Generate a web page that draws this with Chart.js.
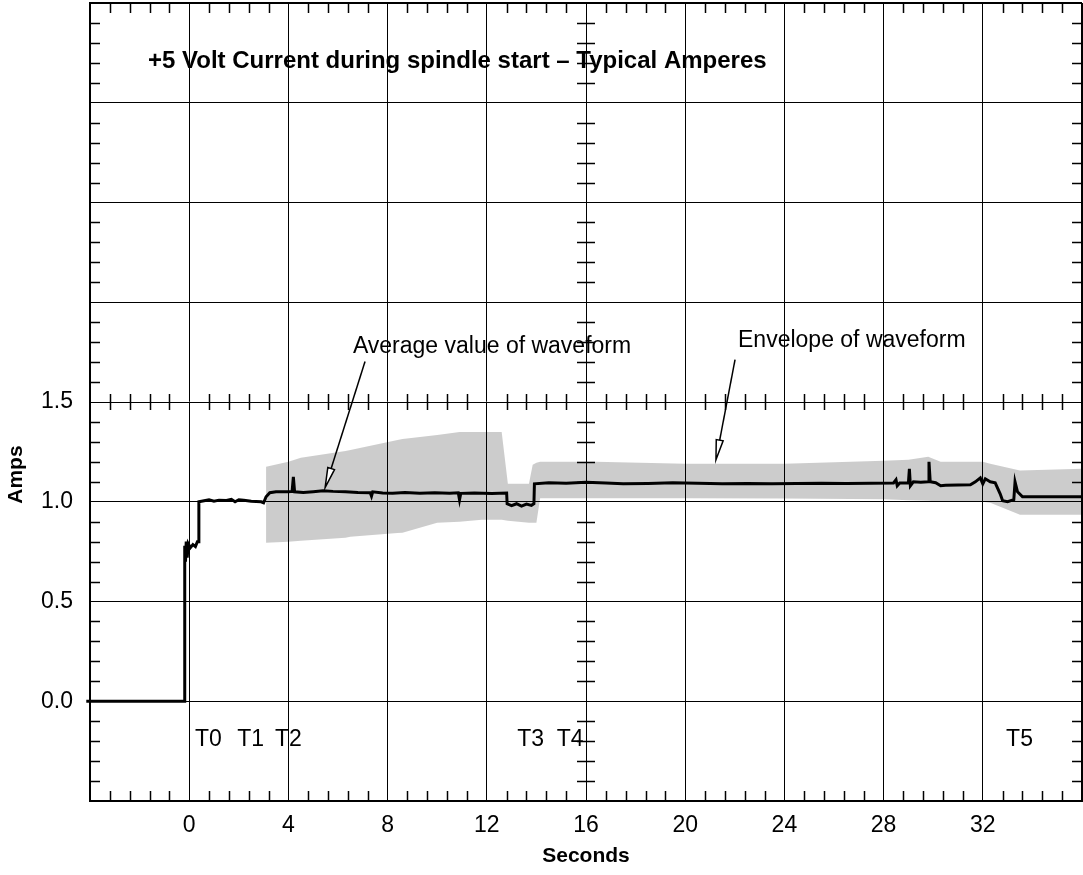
<!DOCTYPE html>
<html>
<head>
<meta charset="utf-8">
<script src="https://cdn.jsdelivr.net/npm/chart.js@4.4.1/dist/chart.umd.min.js"></script>
<style>
  html, body { margin: 0; padding: 0; background: #fff; }
  canvas { display: block; }
</style>
</head>
<body>
<canvas id="chart" width="1083" height="875"></canvas>
<script>
// average value of the waveform (seconds, amps)
const waveSeconds = [
  -4.15, -0.2, -0.18, -0.15, -0.12, -0.08, -0.04, 0.05, 0.15, 0.25, 0.33, 0.37,
  0.39, 0.6, 0.8, 1.0, 1.2, 1.5, 1.7, 1.85, 2.0, 2.2, 2.5, 2.9, 3.0, 3.1, 3.25, 3.5,
  4.0, 4.15, 4.2, 4.25, 4.6, 5.0, 5.4, 5.8, 6.3, 6.8, 7.3, 7.35, 7.4, 7.8, 8.2, 8.7,
  9.3, 9.9, 10.5, 10.85, 10.9, 10.95, 11.5, 12.2, 12.8, 12.82, 13.0, 13.2, 13.4, 13.6,
  13.8, 13.9, 13.92, 14.5, 15.2, 16.0, 16.8, 17.5, 18.5, 19.5, 20.5, 21.5, 22.5, 23.5,
  24.5, 25.5, 26.5, 27.5, 28.4, 28.5, 28.55, 28.65, 29.0, 29.04, 29.08, 29.2, 29.5,
  29.8, 29.83, 29.88, 30.1, 30.3, 30.5, 31.5, 31.7, 31.9, 32.0, 32.1, 32.3, 32.5,
  32.7, 32.8, 33.0, 33.25, 33.3, 33.4, 33.6, 36.0
];
const waveAmps = [
  0, 0, 0.78, 0.70, 0.80, 0.72, 0.79, 0.77, 0.785, 0.775, 0.80, 0.80,
  1.0, 1.005, 1.01, 1.003, 1.008, 1.006, 1.012, 1.0, 1.01, 1.008, 1.003, 1.0, 0.995, 1.025, 1.045, 1.05,
  1.05, 1.052, 1.125, 1.05, 1.046, 1.05, 1.055, 1.052, 1.05, 1.046, 1.045, 1.028, 1.05, 1.044, 1.042, 1.046,
  1.043, 1.045, 1.042, 1.045, 1.01, 1.042, 1.044, 1.041, 1.044, 0.99, 0.98, 0.99, 0.978, 0.988,
  0.982, 0.99, 1.09, 1.095, 1.093, 1.098, 1.094, 1.09, 1.092, 1.095, 1.093, 1.09, 1.092, 1.09,
  1.091, 1.093, 1.092, 1.093, 1.094, 1.11, 1.08, 1.094, 1.094, 1.165, 1.08, 1.1, 1.098,
  1.1, 1.2, 1.1, 1.095, 1.08, 1.083, 1.085, 1.1, 1.12, 1.09, 1.115, 1.1, 1.095,
  1.04, 1.005, 1.0, 1.01, 1.1, 1.05, 1.025, 1.025
];

// envelope of the waveform (upper and lower edge, same time points)
const envSeconds = [3.1, 4.0, 4.5, 6.3, 6.5, 8.4, 8.6, 10.0, 10.9, 11.8, 12.6, 12.85, 13.7,
  13.85, 14.0, 14.15, 16.4, 20.0, 24.0, 28.0, 29.0, 29.8, 30.3, 32.0, 32.3, 33.5, 36.0];
const envUpper = [1.175, 1.2, 1.22, 1.255, 1.26, 1.31, 1.315, 1.335, 1.35, 1.35, 1.35, 1.09, 1.09,
  1.185, 1.195, 1.2, 1.2, 1.19, 1.19, 1.205, 1.21, 1.226, 1.2, 1.2, 1.19, 1.157, 1.165];
const envLower = [0.795, 0.80, 0.805, 0.82, 0.825, 0.843, 0.845, 0.895, 0.90, 0.91, 0.91, 0.905, 0.895,
  0.895, 0.895, 1.018, 1.018, 1.018, 1.016, 1.012, 1.008, 1.005, 1.0, 1.0, 0.995, 0.935, 0.935];

// axis labels that are printed
const labeledSeconds = [0, 4, 8, 12, 16, 20, 24, 28, 32];
const labeledAmps = [0, 0.5, 1.0, 1.5];

// event markers
const eventNames = ['T0', 'T1', 'T2', 'T3', 'T4', 'T5'];
const eventSeconds = [0.23, 1.94, 3.46, 13.23, 14.82, 32.94];

const FONT = '"Liberation Sans", Arial, Helvetica, sans-serif';
Chart.defaults.font.family = FONT;
Chart.defaults.color = '#000';

function pts(xs, ys) {
  return xs.map((x, i) => ({ x, y: ys[i] }));
}

function drawArrow(ctx, x0, y0, x1, y1) {
  const ang = Math.atan2(y1 - y0, x1 - x0);
  const len = 20, half = 3.5;
  const c = Math.cos(ang), s = Math.sin(ang);
  ctx.beginPath();
  ctx.moveTo(x0, y0);
  ctx.lineTo(x1 - c * len, y1 - s * len);
  ctx.stroke();
  ctx.beginPath();
  ctx.moveTo(x1, y1);
  ctx.lineTo(x1 - c * len + s * half, y1 - s * len - c * half);
  ctx.lineTo(x1 - c * len - s * half, y1 - s * len + c * half);
  ctx.closePath();
  ctx.fillStyle = '#fff';
  ctx.fill();
  ctx.stroke();
}

const decor = {
  id: 'decor',
  afterDraw(chart) {
    const { ctx, chartArea: a, scales: { x, y } } = chart;
    ctx.save();

    // minor ticks: edges plus the centre cross
    ctx.strokeStyle = '#000';
    ctx.lineWidth = 1.5;
    ctx.beginPath();
    const yMid = Math.round(y.getPixelForValue(1.5));
    for (let i = 1; i < 50; i++) {
      if (i % 5 === 0) continue;
      const px = Math.round(x.getPixelForValue(-4 + i * 0.8)) + 0.5;
      ctx.moveTo(px, a.bottom); ctx.lineTo(px, a.bottom - 10);
      ctx.moveTo(px, a.top); ctx.lineTo(px, a.top + 10);
      ctx.moveTo(px, yMid - 8); ctx.lineTo(px, yMid + 8);
    }
    const xMid = Math.round(x.getPixelForValue(16));
    for (let i = 1; i < 40; i++) {
      if (i % 5 === 0) continue;
      const py = Math.round(y.getPixelForValue(-0.5 + i * 0.1)) + 0.5;
      ctx.moveTo(a.left, py); ctx.lineTo(a.left + 10, py);
      ctx.moveTo(a.right, py); ctx.lineTo(a.right - 10, py);
      ctx.moveTo(xMid - 9, py); ctx.lineTo(xMid + 9, py);
    }
    ctx.stroke();

    // arrows
    ctx.lineWidth = 1.5;
    drawArrow(ctx, x.getPixelForValue(7.09), y.getPixelForValue(1.703),
      x.getPixelForValue(5.48), y.getPixelForValue(1.071));
    drawArrow(ctx, x.getPixelForValue(22.01), y.getPixelForValue(1.712),
      x.getPixelForValue(21.24), y.getPixelForValue(1.21));

    // texts
    ctx.fillStyle = '#000';
    ctx.textBaseline = 'middle';
    ctx.textAlign = 'left';
    ctx.font = 'bold 24px ' + FONT;
    ctx.fillText('+5 Volt Current during spindle start \u2013 Typical Amperes',
      x.getPixelForValue(-1.66), y.getPixelForValue(3.206));

    ctx.font = '23px ' + FONT;
    ctx.fillText('Average value of waveform', x.getPixelForValue(6.6), y.getPixelForValue(1.777));
    ctx.fillText('Envelope of waveform', x.getPixelForValue(22.13), y.getPixelForValue(1.807));
    eventNames.forEach((name, i) => {
      ctx.fillText(name, x.getPixelForValue(eventSeconds[i]), y.getPixelForValue(-0.192));
    });

    // axis titles
    ctx.font = 'bold 21px ' + FONT;
    ctx.textAlign = 'center';
    ctx.fillText('Seconds', (a.left + a.right) / 2, 856);
    ctx.translate(a.left - 74, y.getPixelForValue(1.136));
    ctx.rotate(-Math.PI / 2);
    ctx.fillText('Amps', 0, 0);

    ctx.restore();
  }
};

new Chart(document.getElementById('chart'), {
  type: 'line',
  data: {
    datasets: [
      {
        label: 'Envelope upper',
        data: pts(envSeconds, envUpper),
        borderColor: 'rgba(0,0,0,0)',
        borderWidth: 1,
        pointRadius: 0,
        fill: '+1',
        backgroundColor: 'rgba(0,0,0,0.2)'
      },
      {
        label: 'Envelope lower',
        data: pts(envSeconds, envLower),
        borderColor: 'rgba(0,0,0,0)',
        borderWidth: 1,
        pointRadius: 0,
        fill: false
      },
      {
        label: 'Average',
        data: pts(waveSeconds, waveAmps),
        borderColor: '#000',
        borderWidth: 3,
        pointRadius: 0,
        fill: false,
        tension: 0,
        clip: { left: 4, top: 0, right: 0, bottom: 0 }
      }
    ]
  },
  options: {
    responsive: false,
    devicePixelRatio: 1,
    animation: false,
    layout: { padding: { top: 3, right: 1, left: 0, bottom: 0 } },
    plugins: {
      legend: { display: false },
      tooltip: { enabled: false }
    },
    scales: {
      x: {
        type: 'linear',
        min: -4,
        max: 36,
        afterFit(scale) {
          scale.height = 74;
          scale.paddingLeft = 0;
          scale.paddingRight = 0;
        },
        ticks: {
          stepSize: 4,
          autoSkip: false,
          maxRotation: 0,
          padding: 11,
          font: { size: 23 },
          callback: v => labeledSeconds.includes(v) ? String(v) : ''
        },
        grid: {
          color: '#000',
          lineWidth: c => (c.tick && c.tick.value === 36 ? 2 : 1),
          drawTicks: false
        },
        border: { color: '#000', width: 2 }
      },
      y: {
        min: -0.5,
        max: 3.5,
        afterFit(scale) {
          scale.width = 90;
          scale.paddingTop = 0;
          scale.paddingBottom = 0;
        },
        ticks: {
          stepSize: 0.5,
          padding: 17,
          font: { size: 23 },
          callback: v => labeledAmps.includes(v) ? v.toFixed(1) : ''
        },
        grid: {
          color: '#000',
          lineWidth: c => (c.tick && c.tick.value === 3.5 ? 2 : 1),
          drawTicks: false
        },
        border: { color: '#000', width: 2 }
      }
    }
  },
  plugins: [decor]
});
</script>
</body>
</html>
